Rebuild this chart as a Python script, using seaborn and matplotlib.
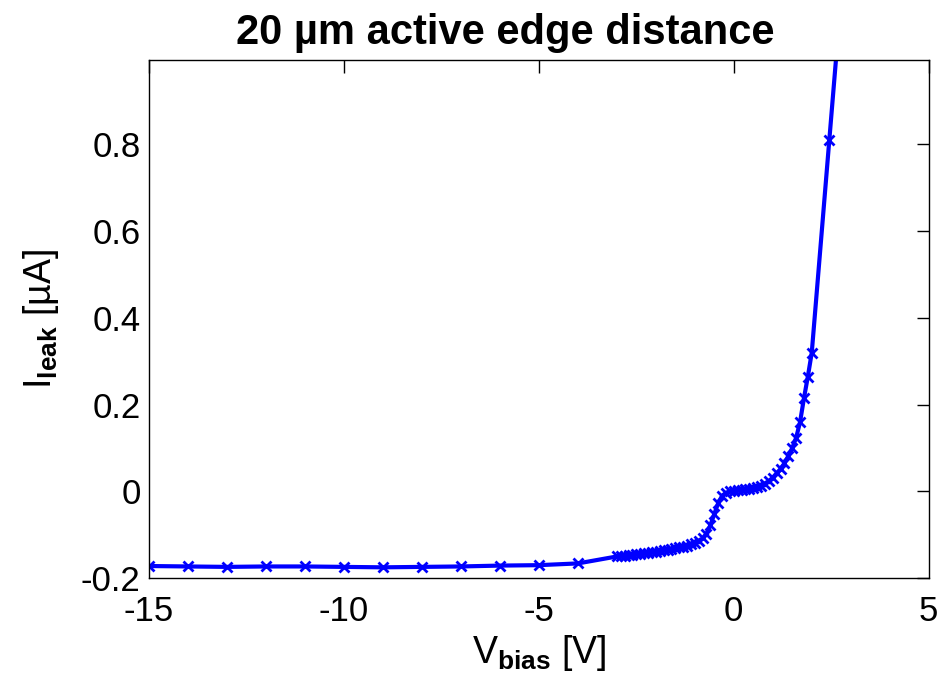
import numpy as np
import pandas as pd
import matplotlib
matplotlib.use("Agg")
import matplotlib.pyplot as plt
import seaborn as sns

# ── Data ──────────────────────────────────────────────────────
v_coarse = [-15, -14, -13, -12, -11, -10, -9, -8, -7, -6, -5, -4]
i_coarse = [-0.172, -0.173, -0.174, -0.173, -0.173, -0.174, -0.175, -0.174,
            -0.173, -0.171, -0.170, -0.166]

v_fine = [-3.0, -2.9, -2.8, -2.7, -2.6, -2.5, -2.4, -2.3, -2.2, -2.1,
          -2.0, -1.9, -1.8, -1.7, -1.6, -1.5, -1.4, -1.3, -1.2, -1.1,
          -1.0, -0.9, -0.8, -0.7, -0.6, -0.5, -0.4, -0.3, -0.2, -0.1,
          0.0, 0.1, 0.2, 0.3, 0.4, 0.5, 0.6, 0.7, 0.8, 0.9,
          1.0, 1.1, 1.2, 1.3, 1.4, 1.5, 1.6, 1.7, 1.8, 1.9, 2.0]
i_fine = [-0.150, -0.149, -0.148, -0.147, -0.146, -0.145, -0.144, -0.143, -0.141, -0.140,
          -0.139, -0.137, -0.136, -0.134, -0.133, -0.131, -0.129, -0.127, -0.125, -0.122,
          -0.119, -0.115, -0.108, -0.097, -0.078, -0.052, -0.027, -0.010, -0.003, 0.000,
          0.002, 0.003, 0.004, 0.005, 0.006, 0.008, 0.010, 0.013, 0.018, 0.024,
          0.032, 0.042, 0.052, 0.065, 0.082, 0.100, 0.124, 0.160, 0.215, 0.265, 0.320]

v_high = [2.45, 2.8]
i_high = [0.81, 1.19]

x_ticks = [-15, -10, -5, 0, 5]
y_ticks = [-0.2, 0, 0.2, 0.4, 0.6, 0.8]
y_tick_labels = ["-0.2", "0", "0.2", "0.4", "0.6", "0.8"]

df = pd.DataFrame({
    "V": v_coarse + v_fine + v_high,
    "I": i_coarse + i_fine + i_high,
})

# ── Style ─────────────────────────────────────────────────────
sns.set_style("white")
plt.rcParams["font.family"] = ["Liberation Sans", "DejaVu Sans"]
plt.rcParams["text.color"] = "black"
plt.rcParams["axes.labelcolor"] = "black"
plt.rcParams["mathtext.fontset"] = "custom"
plt.rcParams["mathtext.rm"] = "Liberation Sans"
plt.rcParams["mathtext.bf"] = "Liberation Sans:bold"

fig = plt.figure(figsize=(9.4, 6.81), dpi=100)
ax = fig.add_axes([0.1585, 0.151, 0.8295, 0.761])

sns.lineplot(data=df, x="V", y="I", ax=ax, color="#0000ff", linewidth=3,
             marker="x", markersize=7, markeredgewidth=2,
             markeredgecolor="#0000ff", sort=False, estimator=None)

ax.set_xlim(-15, 5)
ax.set_ylim(-0.2, 0.995)
ax.set_xticks(x_ticks)
ax.set_xticklabels([str(t) for t in x_ticks])
ax.set_yticks(y_ticks)
ax.set_yticklabels(y_tick_labels)
ax.tick_params(direction="in", length=9, width=1, labelsize=25,
               top=True, right=True, colors="black", pad=6)
ax.tick_params(axis="x", pad=12)

for s in ax.spines.values():
    s.set_visible(True)
    s.set_color("black")
    s.set_linewidth(1)

# title sits a little left of the axes centre in the original
fig.text(0.537, 0.952, "20 µm active edge distance", fontsize=30,
         fontweight="bold", color="black", ha="center", va="center")
ax.set_xlabel(r"V$_{\mathbf{bias}}$ [V]", fontsize=27, labelpad=4)
ax.set_ylabel(r"I$_{\mathbf{leak}}$ [µA]", fontsize=27, labelpad=14)

fig.savefig("out.png", dpi=100)
